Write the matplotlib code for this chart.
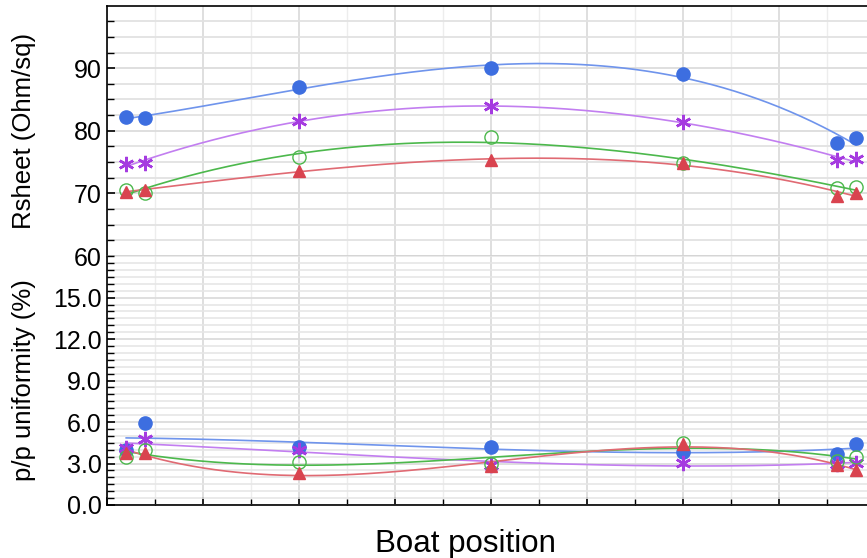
import numpy as np
import matplotlib
matplotlib.use('Agg')
import matplotlib.pyplot as plt
from matplotlib.ticker import MultipleLocator, FixedLocator, NullFormatter

plt.rcParams['font.family'] = ['Liberation Sans', 'DejaVu Sans']

# boat positions
pos = [4, 8, 40, 80, 120, 152, 156]

# Rsheet (Ohm/sq)
rs_blue = [82.2, 82.0, 87.0, 90.0, 89.1, 78.0, 78.9]
rs_purple = [74.7, 74.9, 81.6, 83.9, 81.4, 75.3, 75.5]
rs_green = [70.6, 70.1, 75.9, 79.0, 74.9, 70.8, 71.0]
rs_red = [70.3, 70.6, 73.6, 75.3, 74.8, 69.6, 70.1]

# p/p uniformity (%)
uni_blue = [4.0, 5.9, 4.2, 4.2, 3.8, 3.7, 4.4]
uni_purple = [4.15, 4.75, 3.96, 2.87, 3.04, 3.0, 3.04]
uni_green = [3.5, 4.0, 3.1, 3.0, 4.5, 3.2, 3.5]
uni_red = [3.76, 3.79, 2.31, 2.8, 4.44, 2.92, 2.5]

styles = [
    dict(marker='o', mfc='#3d6ee0', mec='#3d6ee0', ms=9.5, mew=1, lc='#6f94ec'),
    dict(marker=(6, 2, 0), mfc='#a53be0', mec='#a53be0', ms=11, mew=1.8, lc='#c27ef0'),
    dict(marker='o', mfc='none', mec='#4cb84c', ms=9.5, mew=1, lc='#4cb84c'),
    dict(marker='^', mfc='#d9434f', mec='#d9434f', ms=9, mew=1, lc='#e06a73'),
]

fig = plt.figure(figsize=(8.67, 5.58), dpi=100)
ax1 = fig.add_axes([0.1234, 0.541, 0.8766, 0.448])
ax2 = fig.add_axes([0.1234, 0.095, 0.8766, 0.446])

xs = np.linspace(min(pos), max(pos), 200)


def draw(ax, series):
    for vals, st in zip(series, styles):
        # fitted trend line
        coef = np.polyfit(pos, vals, 3)
        ax.plot(xs, np.polyval(coef, xs), color=st['lc'], lw=1.2, zorder=2)
        ax.plot(pos, vals, ls='none', marker=st['marker'], ms=st['ms'],
                mfc=st['mfc'], mec=st['mec'], mew=st['mew'], zorder=3)


draw(ax1, [rs_blue, rs_purple, rs_green, rs_red])
draw(ax2, [uni_blue, uni_purple, uni_green, uni_red])

for ax in (ax1, ax2):
    ax.set_xlim(0, 158.3)
    ax.xaxis.set_major_locator(MultipleLocator(20))
    ax.xaxis.set_minor_locator(MultipleLocator(10))
    ax.xaxis.set_major_formatter(NullFormatter())
    ax.grid(which='major', color='#dcdcdc', lw=1.3)
    ax.grid(which='minor', color='#ededed', lw=1.0)
    ax.set_axisbelow(True)
    ax.spines['right'].set_visible(False)
    ax.spines['left'].set_linewidth(1.2)
    ax.tick_params(axis='y', which='both', direction='in', labelsize=18, pad=4)
    ax.tick_params(axis='y', which='major', length=6, width=1.2)
    ax.tick_params(axis='y', which='minor', length=5, width=1)

# top panel
ax1.set_ylim(60, 99.9)
ax1.yaxis.set_major_locator(FixedLocator([60, 70, 80, 90]))
ax1.yaxis.set_minor_locator(MultipleLocator(2.5))
ax1.grid(which='minor', axis='y', color='#e2e2e2', lw=1.3)
ax1.tick_params(axis='x', which='both', length=0)
ax1.spines['top'].set_linewidth(1.2)
ax1.spines['bottom'].set_color('#d4d4d4')
ax1.spines['bottom'].set_linewidth(2)
ax1.set_ylabel('Rsheet (Ohm/sq)', fontsize=18.5)
ax1.yaxis.set_label_coords(-0.093, 0.5)

# bottom panel
ax2.set_ylim(0, 18)
ax2.yaxis.set_major_locator(FixedLocator([0, 3, 6, 9, 12, 15]))
ax2.yaxis.set_minor_locator(MultipleLocator(0.5))
ax2.yaxis.set_major_formatter(plt.FuncFormatter(lambda v, p: f'{v:.1f}'))
ax2.grid(which='minor', axis='y', color='#e6e6e6', lw=1.2)
ax2.spines['top'].set_visible(False)
ax2.spines['bottom'].set_linewidth(1.2)
ax2.tick_params(axis='x', which='major', direction='in', length=6, width=1.2)
ax2.tick_params(axis='x', which='minor', direction='in', length=4, width=1)
ax2.set_ylabel('p/p uniformity (%)', fontsize=18.5)
ax2.yaxis.set_label_coords(-0.093, 0.5)
ax2.set_xlabel('Boat position', fontsize=22.5)
ax2.xaxis.set_label_coords(0.471, -0.097)

fig.savefig('out.png', dpi=100)
